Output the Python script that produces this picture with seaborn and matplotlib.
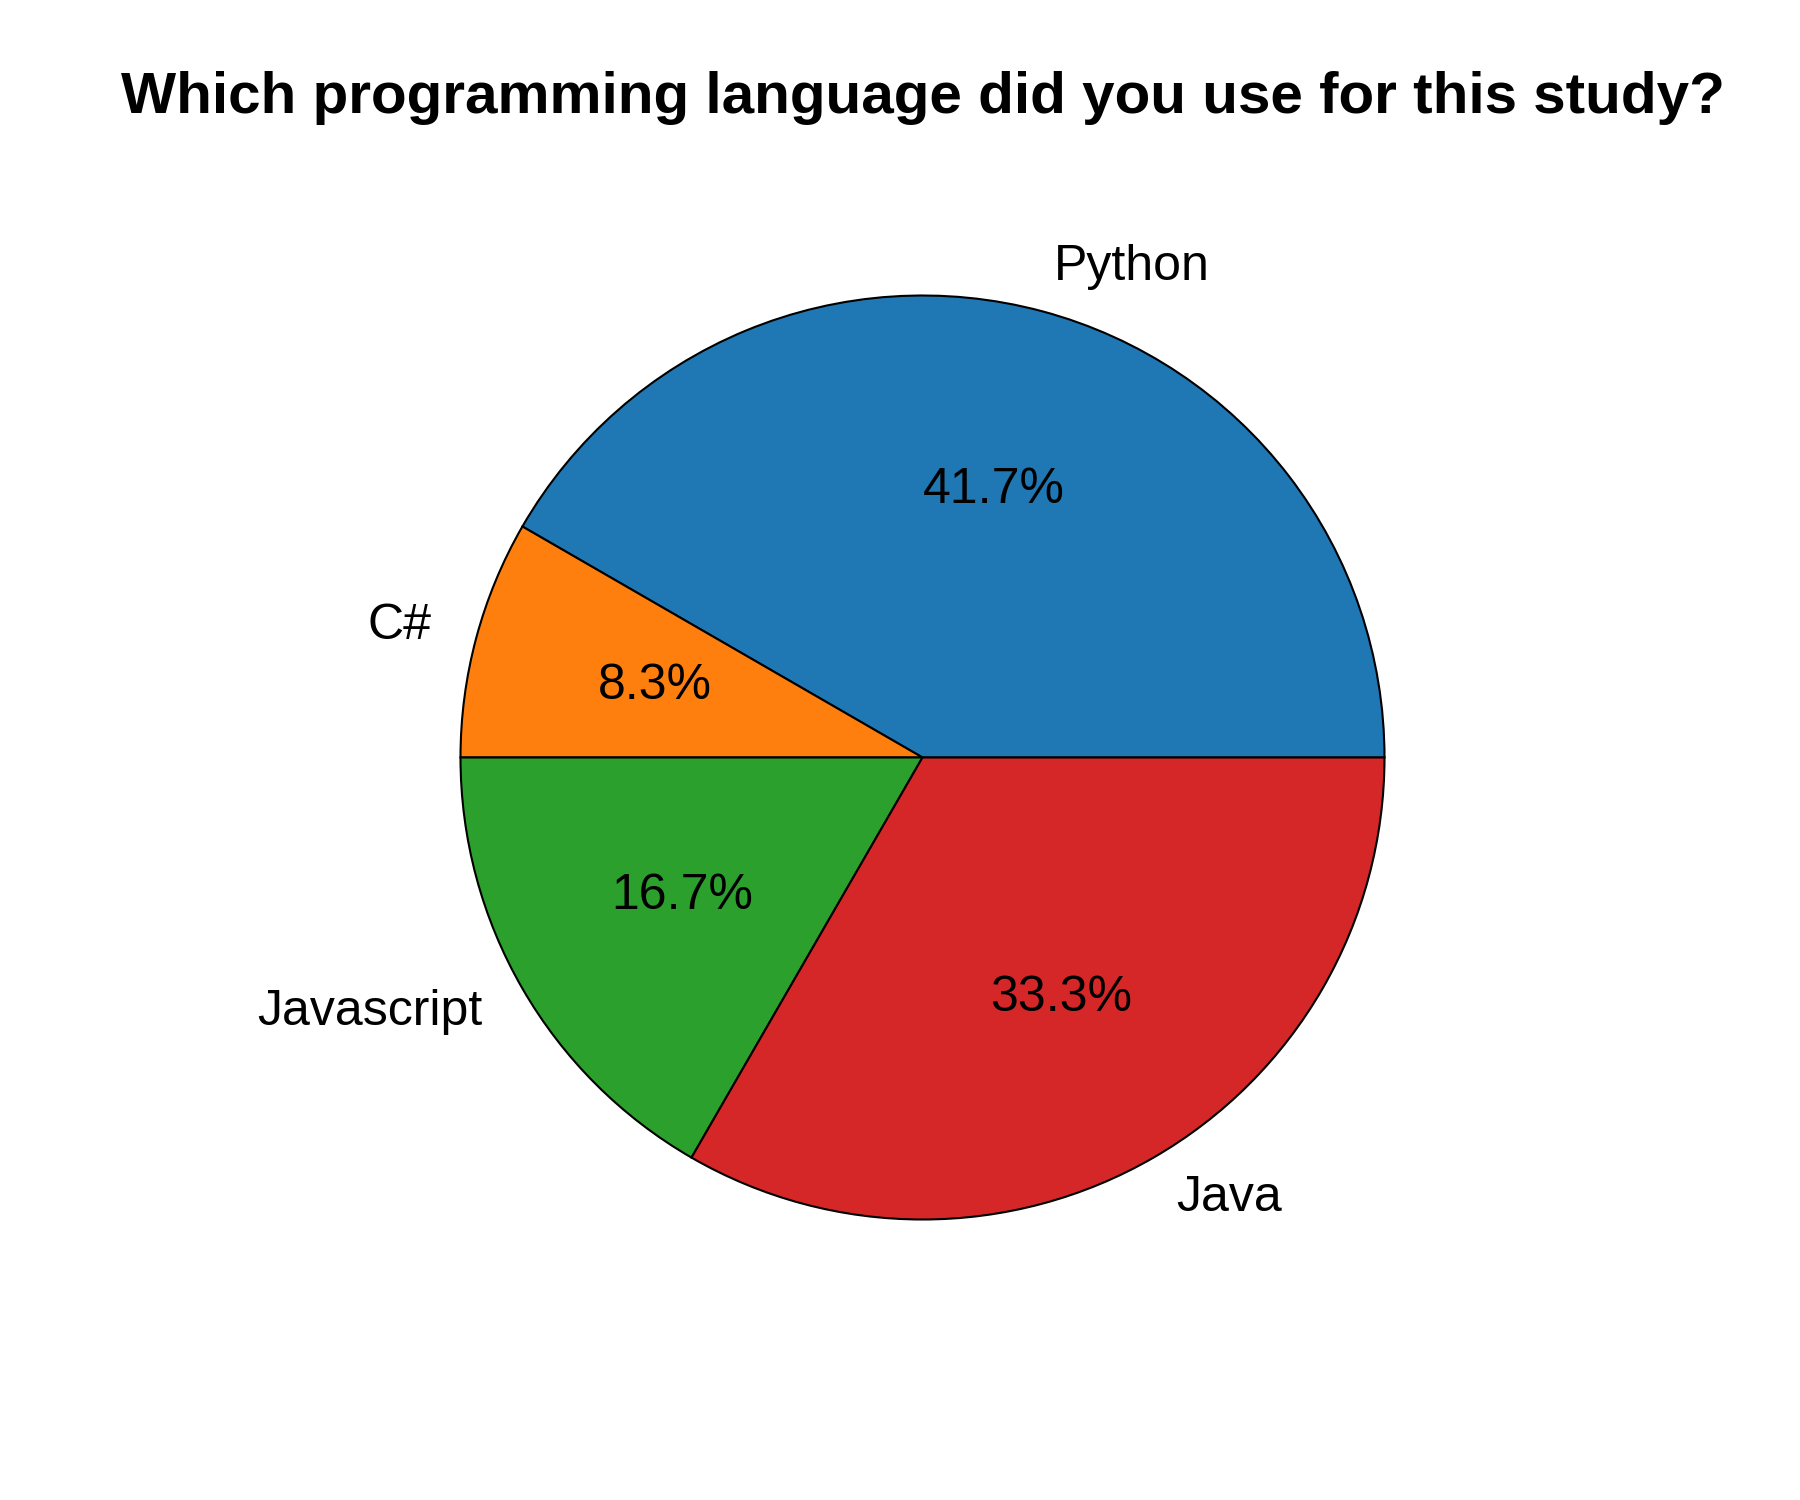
import matplotlib
matplotlib.use('Agg')
import matplotlib.pyplot as plt
import seaborn as sns

# survey answers: number of participants per language
languages = ['Python', 'C#', 'Javascript', 'Java']
counts = [5, 1, 2, 4]

sns.set_theme(style='white')
plt.rcParams['font.family'] = ['Liberation Sans', 'DejaVu Sans']

colors = sns.color_palette('tab10', len(languages))

fig, ax = plt.subplots(figsize=(12, 10), dpi=150)
ax.pie(counts, labels=languages, colors=colors, autopct='%1.1f%%',
       wedgeprops={'edgecolor': 'black', 'linewidth': 1},
       textprops={'fontsize': 24, 'color': 'black'})
ax.set_title('Which programming language did you use for this study?',
             fontsize=28, fontweight='bold', color='black', pad=32)

plt.savefig('out.png')
